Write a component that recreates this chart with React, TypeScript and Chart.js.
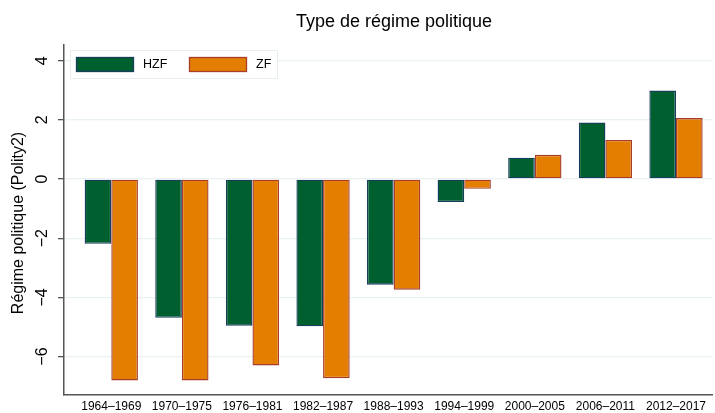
import React, { useEffect, useRef } from "react";
import { Chart, registerables } from "chart.js";

Chart.register(...registerables);

const TITLE = "Type de régime politique";
const Y_TITLE = "Régime politique (Polity2)";
const categories = [
  "1964–1969", "1970–1975", "1976–1981", "1982–1987", "1988–1993",
  "1994–1999", "2000–2005", "2006–2011", "2012–2017",
];
const hzfValues = [-2.19, -4.69, -4.96, -4.98, -3.57, -0.78, 0.72, 1.91, 2.99];
const zfValues = [-6.81, -6.81, -6.3, -6.73, -3.74, -0.33, 0.82, 1.32, 2.06];
const yTicks = [-6, -4, -2, 0, 2, 4];
const seriesNames = ["HZF", "ZF"];

const FONT = "'Liberation Sans', Arial, Helvetica, sans-serif";

const textPlugin = {
  id: "stataText",
  afterDraw(chart: any) {
    const { ctx, chartArea, scales } = chart;
    const y = scales.y;
    ctx.save();
    ctx.fillStyle = "#000";
    // title
    ctx.font = `18px ${FONT}`;
    ctx.textAlign = "center";
    ctx.textBaseline = "middle";
    ctx.fillText(TITLE, (chartArea.left + chartArea.right) / 2 + 6, 22);
    // y tick labels rotated
    ctx.font = `16px ${FONT}`;
    y.ticks.forEach((t: any) => {
      const py = y.getPixelForValue(t.value);
      ctx.save();
      ctx.translate(chartArea.left - 21, py);
      ctx.rotate(-Math.PI / 2);
      ctx.textAlign = "center";
      ctx.textBaseline = "middle";
      ctx.fillText(t.value < 0 ? "−" + Math.abs(t.value) : String(t.value), 0, 0);
      ctx.restore();
    });
    // y title
    ctx.save();
    ctx.font = `16px ${FONT}`;
    ctx.translate(19, (chartArea.top + chartArea.bottom) / 2 + 3);
    ctx.rotate(-Math.PI / 2);
    ctx.textAlign = "center";
    ctx.textBaseline = "middle";
    ctx.fillText(Y_TITLE, 0, 0);
    ctx.restore();
    // legend
    const lx = chartArea.left + 6;
    const ly = chartArea.top + 5;
    ctx.fillStyle = "#fff";
    ctx.fillRect(lx, ly, 207, 28);
    ctx.strokeStyle = "#e6eef0";
    ctx.lineWidth = 1;
    ctx.strokeRect(lx + 0.5, ly + 0.5, 207, 28);
    ctx.font = `12.5px ${FONT}`;
    ctx.textAlign = "left";
    chart.data.datasets.forEach((ds: any, i: number) => {
      const sx = lx + 6 + i * 113;
      ctx.fillStyle = ds.backgroundColor;
      ctx.fillRect(sx, ly + 7, 58, 15);
      ctx.strokeStyle = ds.borderColor;
      ctx.lineWidth = 1.3;
      ctx.strokeRect(sx + 0.5, ly + 7.5, 57, 14);
      ctx.fillStyle = "#000";
      ctx.fillText(ds.label, sx + 67, ly + 15);
    });
    ctx.restore();
  },
};

export default function App() {
  const ref = useRef<HTMLCanvasElement>(null);
  useEffect(() => {
    document.body.style.margin = "0";
    const chart = new Chart(ref.current!, {
      type: "bar",
      data: {
        datasets: [
          {
            label: seriesNames[0],
            data: hzfValues.map((v, i) => ({ x: i, y: v })),
            backgroundColor: "#005f2e",
            borderColor: "#173f5c",
            borderWidth: 1.4,
            borderSkipped: false,
          },
          {
            label: seriesNames[1],
            data: zfValues.map((v, i) => ({ x: i, y: v })),
            backgroundColor: "#e37e00",
            borderColor: "#a83e2a",
            borderWidth: 1.4,
            borderSkipped: false,
          },
        ],
      },
      options: {
        animation: false,
        responsive: false,
        devicePixelRatio: 1,
        categoryPercentage: 0.755,
        barPercentage: 1,
        layout: { padding: { top: 45, right: 3, left: 0, bottom: 0 } },
        plugins: {
          legend: { display: false },
          title: { display: false },
          tooltip: { enabled: false },
        },
        scales: {
          x: {
            type: "linear",
            offset: false,
            min: -0.67,
            max: 8.51,
            afterBuildTicks: (s: any) => {
              s.ticks = categories.map((_, i) => ({ value: i }));
            },
            afterFit: (s: any) => {
              s.height = 18;
            },
            ticks: {
              autoSkip: false,
              maxRotation: 0,
              minRotation: 0,
              padding: 4,
              color: "#000",
              font: { family: FONT, size: 12 },
              callback: (v: any) => categories[v] ?? "",
            },
            grid: { display: false, drawTicks: false, offset: false },
            border: { display: true, color: "#555", width: 1.5 },
          },
          y: {
            min: -7.3,
            max: 4.53,
            afterBuildTicks: (s: any) => {
              s.ticks = yTicks.map((v) => ({ value: v }));
            },
            afterFit: (s: any) => {
              s.width = 64;
            },
            ticks: { display: false },
            grid: {
              color: "#eaf1f2",
              lineWidth: 1.3,
              drawTicks: true,
              tickLength: 6,
              tickColor: "#555",
            },
            border: { display: true, color: "#555", width: 1.5 },
          },
        },
      },
      plugins: [textPlugin],
    } as any);
    return () => chart.destroy();
  }, []);
  return (
    <div style={{ width: 715, height: 413, background: "#fff" }}>
      <canvas ref={ref} width={715} height={413} />
    </div>
  );
}
